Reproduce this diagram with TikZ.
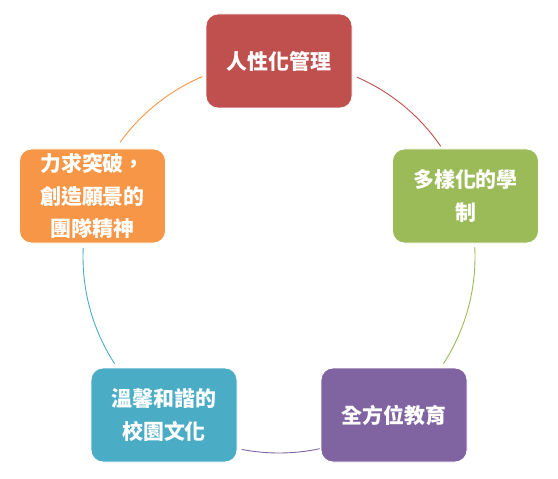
\documentclass[tikz,border=0pt]{standalone}
\usepackage{fontspec}
\newfontfamily\cjk{Noto Sans CJK TC}
\definecolor{boxred}{HTML}{C0504D}
\definecolor{boxgreen}{HTML}{9BBB59}
\definecolor{boxpurple}{HTML}{8064A2}
\definecolor{boxblue}{HTML}{4BACC6}
\definecolor{boxorange}{HTML}{F79646}
\begin{document}
\begin{tikzpicture}[x=1bp,y=1bp,yscale=-1,
  cyclebox/.style={draw=white,line width=0.8bp,rounded corners=12bp,
    minimum width=146bp,minimum height=94bp,inner sep=0pt,text=white,
    align=center,font=\cjk\bfseries\fontsize{21}{33}\selectfont},
  cyclearc/.style={line width=0.9bp}]
\path[use as bounding box] (0,0) rectangle (558,479);

%Circle centre (y grows downward, so angles run clockwise)
\coordinate (ctr) at (279,257);

%Arc red to green
\draw[cyclearc,boxred] ([shift={(-66.6:196)}]ctr) arc[start angle=-66.6,end angle=-34.4,radius=196];
%Arc green to purple
\draw[cyclearc,boxgreen] ([shift={(-2.9:196)}]ctr) arc[start angle=-2.9,end angle=33,radius=196];
%Arc purple to blue
\draw[cyclearc,boxpurple] ([shift={(78:196)}]ctr) arc[start angle=78,end angle=101,radius=196];
%Arc blue to orange
\draw[cyclearc,boxblue] ([shift={(147:196)}]ctr) arc[start angle=147,end angle=182.6,radius=196];
%Arc orange to red
\draw[cyclearc,boxorange] ([shift={(-144.2:196)}]ctr) arc[start angle=-144.2,end angle=-113,radius=196];

%Shape: Rounded Rect
\node[cyclebox,fill=boxred] (mgmt) at (279,61) {人性化管理};
%Shape: Rounded Rect
\node[cyclebox,fill=boxgreen] (system) at (465.5,196) {多樣化的學\\制};
%Shape: Rounded Rect
\node[cyclebox,fill=boxpurple] (edu) at (394,415) {全方位教育};
%Shape: Rounded Rect
\node[cyclebox,fill=boxblue] (culture) at (164,415) {溫馨和諧的\\校園文化};
%Shape: Rounded Rect
\node[cyclebox,fill=boxorange] (team) at (92.5,196) {力求突破，\\創造願景的\\團隊精神};

\end{tikzpicture}
\end{document}
